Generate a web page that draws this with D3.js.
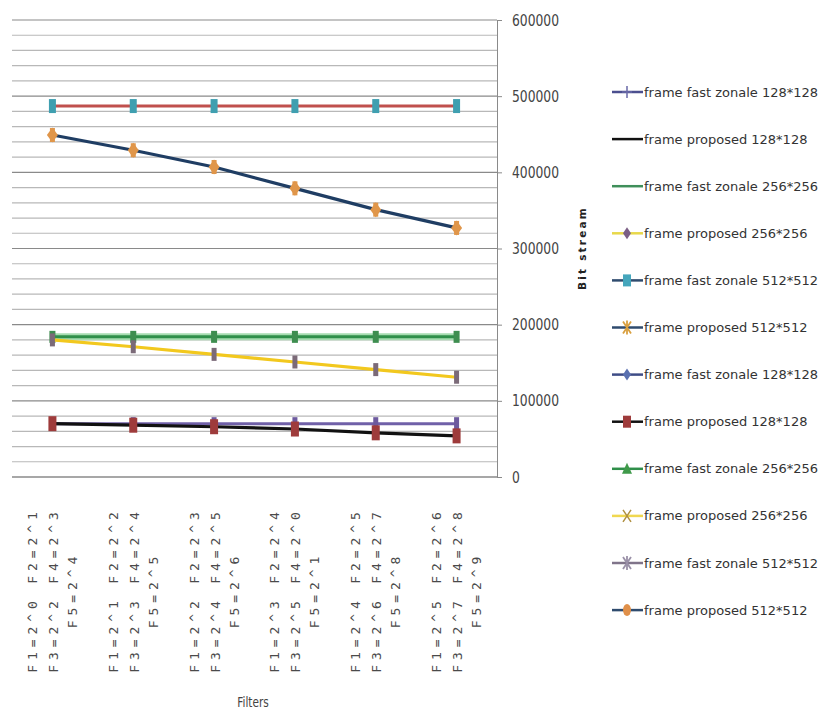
<!DOCTYPE html>
<html>
<head>
<meta charset="utf-8">
<script src="https://cdn.jsdelivr.net/npm/d3@7"></script>
<style>
  html, body { margin: 0; padding: 0; background: #fff; }
  svg { display: block; }
</style>
</head>
<body>
<svg id="chart" width="820" height="711"></svg>
<script>
// ---------- data ----------
const categories = [
  ["F1=2^0 F2=2^1", "F3=2^2 F4=2^3", "F5=2^4"],
  ["F1=2^1 F2=2^2", "F3=2^3 F4=2^4", "F5=2^5"],
  ["F1=2^2 F2=2^3", "F3=2^4 F4=2^5", "F5=2^6"],
  ["F1=2^3 F2=2^4", "F3=2^5 F4=2^0", "F5=2^1"],
  ["F1=2^4 F2=2^5", "F3=2^6 F4=2^7", "F5=2^8"],
  ["F1=2^5 F2=2^6", "F3=2^7 F4=2^8", "F5=2^9"]
];
const fastZonale128 = [70000, 70000, 70000, 70000, 70000, 70000];
const proposed128   = [70000, 68000, 66000, 63000, 58000, 54000];
const fastZonale256 = [184000, 184000, 184000, 184000, 184000, 184000];
const proposed256   = [180000, 171000, 161000, 151000, 141000, 131000];
const fastZonale512 = [487000, 487000, 487000, 487000, 487000, 487000];
const proposed512   = [449000, 429000, 407000, 379000, 351000, 327000];
const yTicks = [0, 100000, 200000, 300000, 400000, 500000, 600000];
const legendLabels = [
  "frame fast zonale 128*128", "frame proposed 128*128",
  "frame fast zonale 256*256", "frame proposed 256*256",
  "frame fast zonale 512*512", "frame proposed 512*512",
  "frame fast zonale 128*128", "frame proposed 128*128",
  "frame fast zonale 256*256", "frame proposed 256*256",
  "frame fast zonale 512*512", "frame proposed 512*512"
];
const xTitle = "Filters";
const yTitle = "Bit stream";

(function () {
// ---------- layout ----------
const svg = d3.select("#chart");
const pL = 12, pR = 497, pT = 20, pB = 477;
const x = d3.scalePoint().domain(d3.range(categories.length)).range([pL, pR]).padding(0.5);
const y = d3.scaleLinear().domain([0, 600000]).range([pB, pT]);
const sans = "'DejaVu Sans', 'Liberation Sans', sans-serif";

// horizontally condense text (the reference uses a narrow font)
function condense(sel, factor) {
  sel.each(function () {
    const w = this.getComputedTextLength();
    d3.select(this).attr("textLength", w * factor).attr("lengthAdjust", "spacingAndGlyphs");
  });
}

// gridlines every 20000
const grid = d3.range(20000, 600001, 20000);
svg.append("g").selectAll("line").data(grid).join("line")
  .attr("x1", pL).attr("x2", pR)
  .attr("y1", d => y(d)).attr("y2", d => y(d))
  .attr("stroke", d => d % 100000 === 0 ? "#8a8a8a" : "#b8b8b8")
  .attr("stroke-width", 1.2);

// bottom axis line
svg.append("line").attr("x1", pL).attr("x2", pR)
  .attr("y1", y(0)).attr("y2", y(0)).attr("stroke", "#8a8a8a").attr("stroke-width", 1.5);

// right y axis
const yAxis = svg.append("g").attr("transform", `translate(${pR},0)`)
  .call(d3.axisRight(y).tickValues(yTicks).tickSize(5).tickPadding(10).tickFormat(d3.format("d")));
yAxis.select(".domain").attr("stroke", "#8a8a8a");
yAxis.selectAll(".tick line").attr("stroke", "#8a8a8a");
const yTxt = yAxis.selectAll("text").attr("font-family", sans).attr("font-size", 16).attr("fill", "#444");
condense(yTxt, 0.77);

// ---------- series ----------
const line = d3.line().x((d, i) => x(i)).y(d => y(d));
function drawLine(vals, color, w) {
  svg.append("path").datum(vals).attr("d", line)
    .attr("fill", "none").attr("stroke", color).attr("stroke-width", w)
    .attr("stroke-linejoin", "round");
}
function drawMarkers(vals, fill, wd, ht) {
  svg.append("g").selectAll("rect").data(vals).join("rect")
    .attr("x", (d, i) => x(i) - wd / 2).attr("y", d => y(d) - ht / 2)
    .attr("width", wd).attr("height", ht).attr("fill", fill);
}
function drawDiamonds(vals, fill, wd, ht) {
  svg.append("g").selectAll("path").data(vals).join("path")
    .attr("d", (d, i) => {
      const cx = x(i), cy = y(d);
      return `M${cx},${cy - ht / 2}L${cx + wd / 2},${cy}L${cx},${cy + ht / 2}L${cx - wd / 2},${cy}Z`;
    })
    .attr("fill", fill);
}

// 512 group
drawLine(fastZonale512, "#c0504d", 3);
drawMarkers(fastZonale512, "#3f9fb0", 7, 14);
drawLine(proposed512, "#1f3d63", 3.2);
drawDiamonds(proposed512, "#e0964a", 11, 15);
drawMarkers(proposed512, "#e0964a", 5, 14);

// 256 group
drawLine(fastZonale256, "#a6dcb0", 7);
drawLine(fastZonale256, "#2f8f4a", 3);
drawMarkers(fastZonale256, "#3e8e50", 6, 12);
drawLine(proposed256, "#f2c81e", 3.2);
drawMarkers(proposed256, "#7b6a78", 5, 13);

// 128 group
drawLine(fastZonale128, "#7060a8", 3);
drawMarkers(fastZonale128, "#6d5a9e", 5, 13);
drawLine(proposed128, "#111111", 3.2);
drawMarkers(proposed128, "#9e3b3b", 8, 15);

// ---------- x tick labels ----------
const offs = [-20, 1, 20];
const xl = svg.append("g");
categories.forEach((lines, i) => {
  lines.forEach((t, k) => {
    const cx = x(i) + offs[k], cy = 590;
    xl.append("text")
      .attr("transform", `translate(${cx},${cy}) rotate(-90)`)
      .attr("text-anchor", "middle").attr("dominant-baseline", "central")
      .attr("font-family", "'DejaVu Sans Mono', monospace").attr("font-size", 13)
      .attr("letter-spacing", 4.9).attr("fill", "#4a4a4a")
      .text(t);
  });
});

// axis titles
const xt = svg.append("text").attr("x", 253).attr("y", 707).attr("text-anchor", "middle")
  .attr("font-family", sans).attr("font-size", 14).attr("fill", "#444").text(xTitle);
condense(xt, 0.75);
svg.append("text").attr("transform", "translate(586,248) rotate(-90)")
  .attr("text-anchor", "middle").attr("font-family", sans)
  .attr("font-weight", "bold").attr("font-size", 10.5).attr("letter-spacing", 2.2)
  .attr("fill", "#222").text(yTitle);

// ---------- legend ----------
const legendStyles = [
  {c: "#4b4f8f", m: "plus", mc: "#6a6aa8"},
  {c: "#111111", m: "none", mc: "#111"},
  {c: "#3f8f5a", m: "none", mc: "#3f8f5a"},
  {c: "#e8d84a", m: "diamond", mc: "#7b5f85"},
  {c: "#2f4b6e", m: "square", mc: "#45a6bc"},
  {c: "#2f4b6e", m: "star", mc: "#d9a040"},
  {c: "#3e4c86", m: "diamond", mc: "#5a70b0"},
  {c: "#111111", m: "square", mc: "#9e3b3b"},
  {c: "#2f8f4a", m: "triangle", mc: "#3f9a4a"},
  {c: "#f0d850", m: "x", mc: "#b09040"},
  {c: "#80748a", m: "star", mc: "#9a90a8"},
  {c: "#2f4b6e", m: "circle", mc: "#e0904a"}
];
const lg = svg.append("g");
legendLabels.forEach((lab, i) => {
  const ly = 92 + i * 47.1;
  const s = legendStyles[i];
  lg.append("line").attr("x1", 612).attr("x2", 643).attr("y1", ly).attr("y2", ly)
    .attr("stroke", s.c).attr("stroke-width", 2.5);
  const cx = 627;
  if (s.m === "square") lg.append("rect").attr("x", cx - 4).attr("y", ly - 6).attr("width", 8).attr("height", 12).attr("fill", s.mc);
  else if (s.m === "diamond") lg.append("path").attr("d", `M${cx},${ly-6}L${cx+4},${ly}L${cx},${ly+6}L${cx-4},${ly}Z`).attr("fill", s.mc);
  else if (s.m === "triangle") lg.append("path").attr("d", `M${cx},${ly-6}L${cx+5},${ly+5}L${cx-5},${ly+5}Z`).attr("fill", s.mc);
  else if (s.m === "circle") lg.append("ellipse").attr("cx", cx).attr("cy", ly).attr("rx", 4).attr("ry", 6).attr("fill", s.mc);
  else if (s.m === "plus") lg.append("path").attr("d", `M${cx},${ly-6}V${ly+6}M${cx-5},${ly}H${cx+5}`).attr("stroke", s.mc).attr("stroke-width", 1.5);
  else if (s.m === "x") lg.append("path").attr("d", `M${cx-4},${ly-6}L${cx+4},${ly+6}M${cx+4},${ly-6}L${cx-4},${ly+6}`).attr("stroke", s.mc).attr("stroke-width", 1.5);
  else if (s.m === "star") lg.append("path").attr("d", `M${cx-4},${ly-6}L${cx+4},${ly+6}M${cx+4},${ly-6}L${cx-4},${ly+6}M${cx},${ly-7}V${ly+7}`).attr("stroke", s.mc).attr("stroke-width", 1.8);
  lg.append("text").attr("x", 644).attr("y", ly).attr("dominant-baseline", "central")
    .attr("font-family", sans).attr("font-size", 13).attr("fill", "#333").text(lab);
});
})();
</script>
</body>
</html>
